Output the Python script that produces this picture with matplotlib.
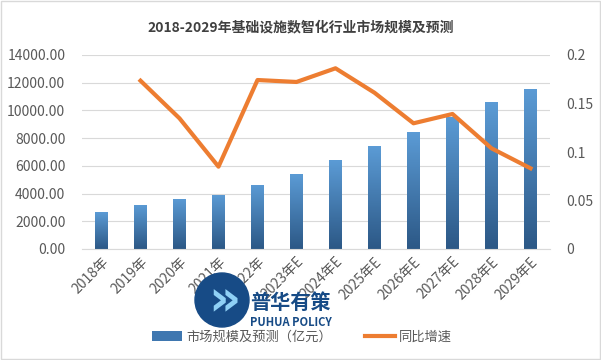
import matplotlib.pyplot as plt
import numpy as np
from matplotlib.patches import Ellipse, Patch
from matplotlib.lines import Line2D
from matplotlib.colors import LinearSegmentedColormap

plt.rcParams['font.family'] = ['Noto Sans CJK SC', 'DejaVu Sans']

# data
years = ["2018年", "2019年", "2020年", "2021年", "2022年", "2023年E", "2024年E",
         "2025年E", "2026年E", "2027年E", "2028年E", "2029年E"]
market = [2670, 3180, 3610, 3900, 4620, 5410, 6420, 7430, 8440, 9550, 10590, 11550]
growth = [np.nan, 0.1735, 0.1347, 0.0849, 0.1742, 0.1722, 0.1863, 0.1611,
          0.1296, 0.1392, 0.1038, 0.0832]

fig = plt.figure(figsize=(6.01, 3.6), dpi=100)
ax = fig.add_axes([82/601, 1 - 249/360, 468/601, 194/360])
ax2 = ax.twinx()

x = np.arange(len(years))
grey = '#595959'

# gradient bars
cmap = LinearSegmentedColormap.from_list('bar', ['#2c5886', '#5b9bd5'])
grad = np.linspace(0, 1, 100).reshape(-1, 1)
bars = ax.bar(x, market, width=0.31, color='none', zorder=2)
for b in bars:
    x0, w, h = b.get_x(), b.get_width(), b.get_height()
    im = ax.imshow(grad, cmap=cmap, aspect='auto', origin='lower',
                   extent=[x0, x0 + w, 0, h], zorder=2)
    im.set_clip_path(b)

ax.set_xlim(-0.5, len(years) - 0.5)
ax.set_ylim(0, 14000)
ax.set_yticks(np.arange(0, 14001, 2000))
ax.set_yticklabels([f"{v:.2f}" for v in np.arange(0, 14001, 2000)])
ax.yaxis.grid(True, color='#d9d9d9', linewidth=0.8, zorder=0)
ax.set_axisbelow(True)

ax2.plot(x, growth, color='#ed7d31', linewidth=3, zorder=3)
ax2.set_ylim(0, 0.2)
ax2.set_yticks([0, 0.05, 0.1, 0.15, 0.2])
ax2.set_yticklabels(["0", "0.05", "0.1", "0.15", "0.2"])

ax.set_xticks(x)
ax.set_xticklabels(years, rotation=45, ha='right', rotation_mode='anchor')

for a in (ax, ax2):
    for s in a.spines.values():
        s.set_visible(False)
    a.tick_params(length=0, colors=grey, labelsize=10)
ax.spines['bottom'].set_visible(True)
ax.spines['bottom'].set_color('#d9d9d9')
ax.tick_params(axis='y', pad=12)
ax2.tick_params(axis='y', pad=12)
ax.tick_params(axis='x', pad=4)

fig.text(0.5, 1 - 27/360, "2018-2029年基础设施数智化行业市场规模及预测",
         ha='center', va='center', fontsize=10, fontweight='bold', color='#404040')

handles = [Patch(facecolor='#3f77b0', edgecolor='none'),
           Line2D([0], [0], color='#ed7d31', linewidth=3)]
fig.legend(handles, ["市场规模及预测（亿元）", "同比增速"], loc='center',
           bbox_to_anchor=(302/601, 1 - 337/360), ncol=2, frameon=False,
           fontsize=9.5, labelcolor=grey, handlelength=2.3, columnspacing=2.5,
           handletextpad=0.3)

# watermark logo
fig.patches.append(Ellipse((222/601, 1 - 300/360), 54/601, 54/360,
                           transform=fig.transFigure, color='#174b86', zorder=5))
fig.text(224/601, 1 - 301/360, "»", fontsize=36, color='#8fd0f5', ha='center',
         va='center', family='DejaVu Sans', fontweight='bold', zorder=6)
fig.text(290/601, 1 - 302/360, "普华有策", fontsize=14.5, fontweight='bold',
         color='#174b86', ha='center', va='center', zorder=6)
fig.text(291/601, 1 - 323/360, "PUHUA POLICY", fontsize=8, fontweight='bold',
         color='#174b86', ha='center', va='center', zorder=6)

fig.patches.append(plt.Rectangle((0.002, 0.003), 0.996, 0.994, transform=fig.transFigure,
                                 fill=False, edgecolor='#d9d9d9', linewidth=1))

fig.savefig('out.png', dpi=100)
